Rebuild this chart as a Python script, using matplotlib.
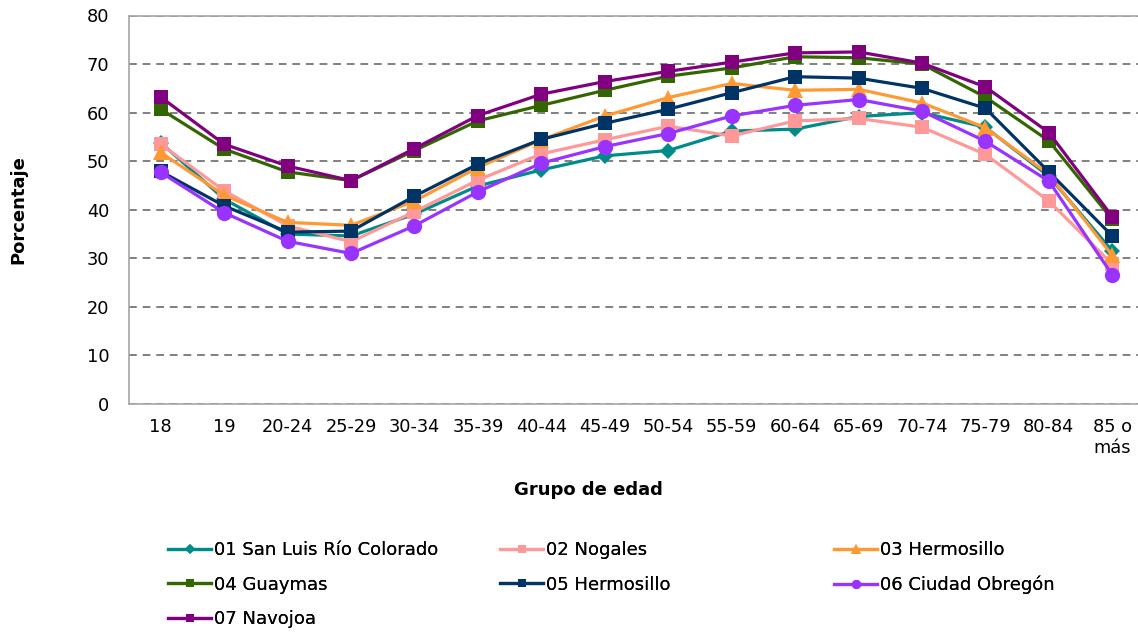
import matplotlib
matplotlib.use("Agg")
import matplotlib.pyplot as plt

plt.rcParams['font.family'] = ['DejaVu Sans']

categories = ["18", "19", "20-24", "25-29", "30-34", "35-39", "40-44", "45-49",
              "50-54", "55-59", "60-64", "65-69", "70-74", "75-79", "80-84", "85 o\nmás"]

san_luis = [53.8, 42.2, 35.0, 34.6, 39.1, 44.9, 48.2, 51.1, 52.2, 56.2, 56.6, 59.2, 60.0, 57.0, 46.9, 31.5]
nogales = [53.5, 43.9, 36.7, 33.4, 39.6, 46.1, 51.5, 54.4, 57.2, 55.2, 58.3, 58.8, 57.0, 51.4, 41.8, 28.8]
hermosillo03 = [51.8, 43.0, 37.4, 36.8, 41.8, 48.7, 54.4, 59.3, 63.1, 66.0, 64.6, 64.8, 62.0, 56.9, 47.3, 30.6]
guaymas = [60.7, 52.5, 47.8, 46.0, 52.2, 58.3, 61.5, 64.6, 67.5, 69.2, 71.5, 71.3, 70.0, 63.2, 54.2, 38.0]
hermosillo05 = [47.9, 40.8, 35.4, 35.6, 42.8, 49.4, 54.5, 57.8, 60.7, 64.1, 67.4, 67.1, 65.0, 60.9, 47.8, 34.6]
obregon = [47.7, 39.4, 33.5, 31.0, 36.7, 43.7, 49.6, 53.0, 55.7, 59.3, 61.5, 62.7, 60.3, 54.1, 45.9, 26.6]
navojoa = [63.2, 53.5, 49.0, 46.0, 52.6, 59.4, 63.8, 66.4, 68.5, 70.4, 72.3, 72.5, 70.2, 65.3, 55.9, 38.6]

series = [
    ("01 San Luis Río Colorado", san_luis, "#008B8B", "D", 8.5),
    ("02 Nogales", nogales, "#FF9999", "s", 10),
    ("03 Hermosillo", hermosillo03, "#FF9933", "^", 11),
    ("04 Guaymas", guaymas, "#336600", "s", 10),
    ("05 Hermosillo", hermosillo05, "#003366", "s", 10),
    ("06 Ciudad Obregón", obregon, "#9933FF", "o", 11),
    ("07 Navojoa", navojoa, "#800080", "s", 10),
]

fig = plt.figure(figsize=(11.38, 6.33), dpi=100)
ax = fig.add_axes([129/1138, 229/633, 1015/1138, 388.5/633])

x = list(range(len(categories)))
handles = []
for label, vals, color, marker, ms in series:
    h, = ax.plot(x, vals, color=color, marker=marker, markersize=ms, linewidth=2.3,
                 label=label, markeredgewidth=0, zorder=3)
    handles.append(h)

ax.set_xlim(-0.5, 15.5)
ax.set_ylim(0, 80)
ax.set_yticks(range(0, 81, 10))
ax.set_xticks(x)
ax.set_xticklabels(categories, fontsize=12.8)
ax.tick_params(axis='y', labelsize=12.8, length=0, pad=14)
ax.tick_params(axis='x', length=0, pad=10)
ax.yaxis.grid(True, linestyle=(0, (4, 3)), color='#808080', linewidth=1.4)
ax.set_axisbelow(True)
for s in ['left', 'bottom', 'top']:
    ax.spines[s].set_color('#A6A6A6')
    ax.spines[s].set_linewidth(1.2)
ax.spines['right'].set_visible(False)

fig.text(18/1138, 1 - 210/633, "Porcentaje", rotation=90, fontsize=13, fontweight='bold',
         ha='center', va='center')
fig.text(588/1138, 1 - 490/633, "Grupo de edad", fontsize=13, fontweight='bold',
         ha='center', va='center')

cols = [([0, 3, 6], 168), ([1, 4], 500), ([2, 5], 834)]
for idxs, xpx in cols:
    leg = fig.legend([handles[i] for i in idxs], [series[i][0] for i in idxs],
                     loc='upper left', bbox_to_anchor=(xpx/1138, 1 - 541/633),
                     frameon=False, fontsize=13, handlelength=2.4, handletextpad=0.15,
                     borderpad=0, borderaxespad=0, labelspacing=0.92, markerscale=0.6)
    fig.add_artist(leg)

fig.savefig("out.png", dpi=100)
